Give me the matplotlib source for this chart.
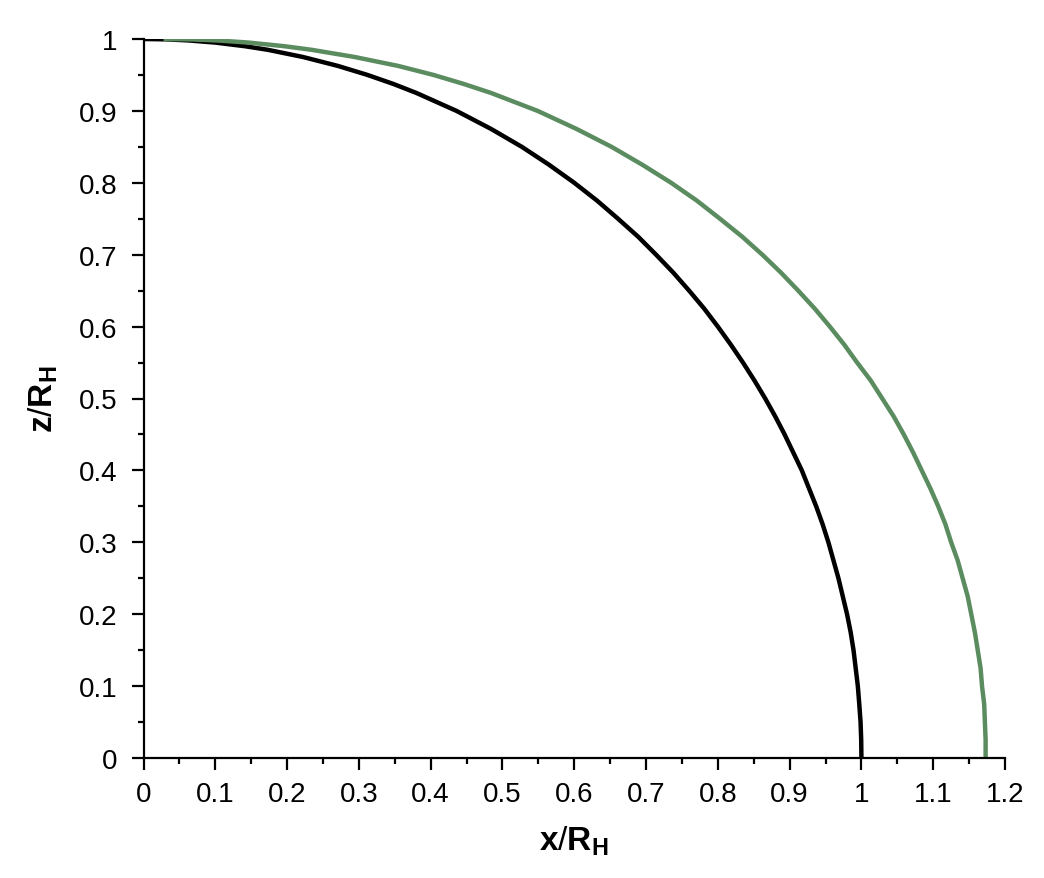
import matplotlib
matplotlib.use("Agg")
import matplotlib.pyplot as plt
from matplotlib.ticker import MultipleLocator

z_levels = [1.0, 0.9995, 0.998, 0.995, 0.99, 0.985, 0.975, 0.9625, 0.95, 0.9375,
            0.925, 0.9, 0.875, 0.85, 0.825, 0.8, 0.775, 0.75, 0.725, 0.7,
            0.675, 0.65, 0.625, 0.6, 0.575, 0.55, 0.525, 0.5, 0.475, 0.45,
            0.425, 0.4, 0.375, 0.35, 0.325, 0.3, 0.275, 0.25, 0.225, 0.2,
            0.175, 0.15, 0.125, 0.1, 0.075, 0.05, 0.025, 0.0]

# Black curve x/R_H
black_x = [0.0, 0.032, 0.063, 0.100, 0.141, 0.173, 0.222, 0.271, 0.312, 0.348,
           0.380, 0.436, 0.484, 0.527, 0.565, 0.600, 0.632, 0.661, 0.689, 0.714,
           0.738, 0.760, 0.781, 0.800, 0.818, 0.835, 0.851, 0.866, 0.880, 0.893,
           0.905, 0.917, 0.927, 0.937, 0.946, 0.954, 0.961, 0.968, 0.974, 0.980,
           0.985, 0.989, 0.992, 0.995, 0.997, 0.9988, 0.9997, 1.0]

# Green curve x/R_H
green_x = [0.028, 0.065, 0.103, 0.147, 0.196, 0.234, 0.294, 0.355, 0.404, 0.446,
           0.484, 0.549, 0.603, 0.652, 0.695, 0.735, 0.771, 0.803, 0.834, 0.862,
           0.888, 0.912, 0.935, 0.956, 0.976, 0.994, 1.013, 1.029, 1.045, 1.059,
           1.072, 1.084, 1.096, 1.107, 1.117, 1.125, 1.134, 1.141, 1.148, 1.153,
           1.158, 1.162, 1.166, 1.168, 1.171, 1.172, 1.173, 1.173]

x_ticks = [0, 0.1, 0.2, 0.3, 0.4, 0.5, 0.6, 0.7, 0.8, 0.9, 1, 1.1, 1.2]
x_tick_labels = ["0", "0.1", "0.2", "0.3", "0.4", "0.5", "0.6", "0.7", "0.8", "0.9", "1", "1.1", "1.2"]
y_ticks = [0, 0.1, 0.2, 0.3, 0.4, 0.5, 0.6, 0.7, 0.8, 0.9, 1]
y_tick_labels = ["0", "0.1", "0.2", "0.3", "0.4", "0.5", "0.6", "0.7", "0.8", "0.9", "1"]

plt.rcParams['font.family'] = ['Liberation Sans', 'DejaVu Sans']
plt.rcParams['mathtext.fontset'] = 'custom'
plt.rcParams['mathtext.rm'] = 'Liberation Sans'
plt.rcParams['mathtext.bf'] = 'Liberation Sans:bold'
plt.rcParams['mathtext.it'] = 'Liberation Sans:italic'

fig = plt.figure(figsize=(10.44, 8.79), dpi=100)
ax = fig.add_axes([143.5 / 1044, 1 - 759 / 879, (1005 - 143.5) / 1044, (759 - 40) / 879])

ax.plot(black_x, z_levels, color='black', lw=3.2, solid_capstyle='butt', solid_joinstyle='round')
ax.plot(green_x, z_levels, color='#5b8c60', lw=3.2, solid_capstyle='butt', solid_joinstyle='round')

ax.set_xlim(0, 1.2)
ax.set_ylim(0, 1.0)
ax.set_xticks(x_ticks)
ax.set_xticklabels(x_tick_labels)
ax.set_yticks(y_ticks)
ax.set_yticklabels(y_tick_labels)
ax.xaxis.set_minor_locator(MultipleLocator(0.05))
ax.yaxis.set_minor_locator(MultipleLocator(0.05))

for side in ['top', 'right']:
    ax.spines[side].set_visible(False)
for side in ['left', 'bottom']:
    ax.spines[side].set_linewidth(1.6)

ax.tick_params(which='major', direction='out', length=8.6, width=1.6, labelsize=20, pad=8)
ax.tick_params(which='minor', direction='out', length=4.3, width=1.6)
ax.tick_params(axis='y', which='major', pad=10)

ax.set_xlabel(r'$\mathbf{x}/\mathbf{R}_{\mathbf{H}}$', fontsize=24, labelpad=12)
ax.set_ylabel(r'$\mathbf{z}/\mathbf{R}_{\mathbf{H}}$', fontsize=24, labelpad=14)

fig.savefig('out.png', dpi=100)
